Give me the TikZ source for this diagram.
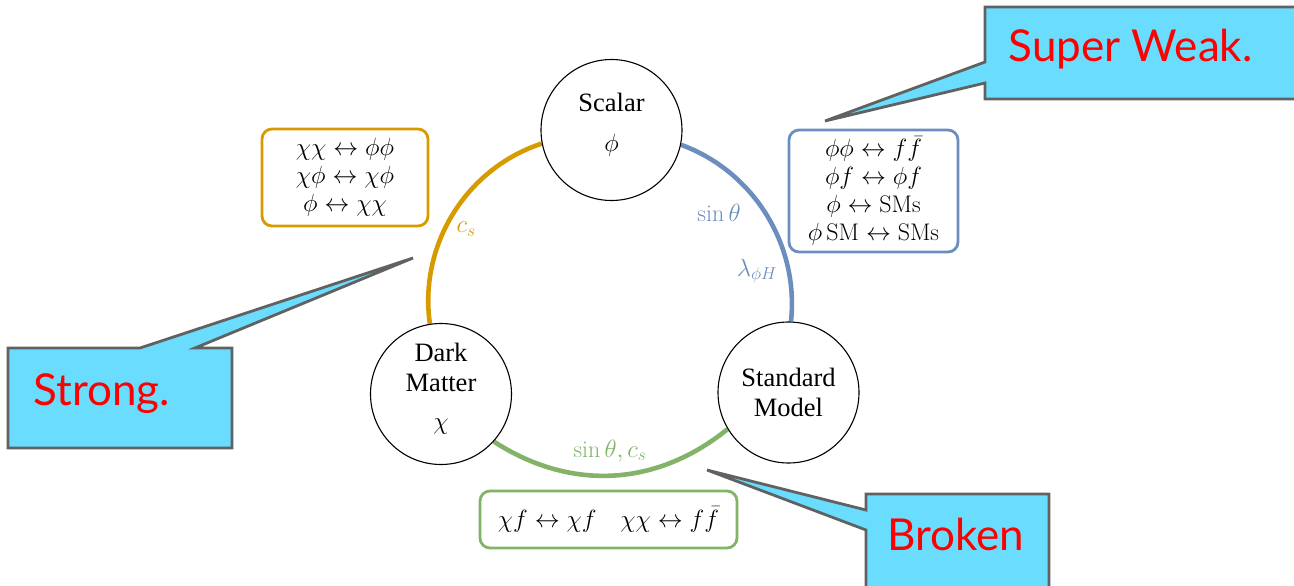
\documentclass[tikz,border=0pt]{standalone}
\usepackage{amsmath,amssymb}
\usepackage{fontspec}
\newfontfamily\sectorfont{Liberation Serif}
\newfontfamily\handfont{Lato}
\usetikzlibrary{backgrounds}
\definecolor{dmorange}{HTML}{D79B00}
\definecolor{smblue}{HTML}{6C8EBF}
\definecolor{mixgreen}{HTML}{82B366}
\definecolor{calloutcyan}{HTML}{6ADDFF}
\definecolor{calloutgray}{HTML}{616161}
\tikzset{
  sector/.style={circle, draw=black, line width=1.1pt, fill=white,
    minimum size=141pt, inner sep=0pt, align=center,
    font=\sectorfont\fontsize{26.5}{30}\selectfont},
  coupling arc/.style={line width=4.6pt},
  process box/.style={draw, line width=2.8pt, rounded corners=10pt,
    fill=white, align=center, inner sep=0pt,
    font=\fontsize{24}{28}\selectfont},
  coupling label/.style={font=\fontsize{24}{28}\selectfont},
  callout/.style={draw=calloutgray, fill=calloutcyan, line width=2.8pt},
  callout text/.style={text=red, anchor=base west,
    font=\handfont\fontsize{44}{50}\selectfont}
}
\newcommand{\couplingLabel}[4]{%
  \node[coupling label,text=#3] (#1) at #2 {$#4$};%
}

\begin{document}
\begin{tikzpicture}[x=1pt,y=-1pt]
  \useasboundingbox (0,0) rectangle (1294,586);

  % the three sectors
  \node[sector] (scalar) at (611.5,130)
    {Scalar\\[10pt]$\phi$\\[-15pt]\mbox{}};
  \node[sector] (dm) at (441,394)
    {Dark\\Matter\\[8pt]$\chi$\\[-15pt]\mbox{}};
  \node[sector] (sm) at (788.5,392.5) {Standard\\Model};

  \begin{pgfonlayer}{background}
    \draw[coupling arc,dmorange] (scalar.191.8)
      to[bend right=40,looseness=0.96] (dm.99.7);
    \draw[coupling arc,smblue] (scalar.-12.4)
      to[bend left=38,looseness=0.95] (sm.88.7);
    \draw[coupling arc,mixgreen] (dm.-42)
      to[bend right=36,looseness=1] (sm.211.4);
  \end{pgfonlayer}

  \couplingLabel{cs}{(466,229)}{dmorange}{c_s}
  \couplingLabel{sintheta}{(719,213)}{smblue}{\sin\theta}
  \couplingLabel{lambda}{(757,271)}{smblue}{\lambda_{\phi H}}
  \couplingLabel{mixing}{(610,451)}{mixgreen}{\sin\theta, c_s}

  % processes
  \node[process box,draw=dmorange,minimum width=166pt,minimum height=97pt]
    (dmbox) at (345,177.5)
    {$\chi\chi \leftrightarrow \phi\phi$\\
     $\chi\phi \leftrightarrow \chi\phi$\\
     $\phi \leftrightarrow \chi\chi$};
  \node[process box,draw=smblue,minimum width=169pt,minimum height=122pt]
    (smbox) at (873.5,191)
    {$\phi\phi \leftrightarrow f\bar{f}$\\
     $\phi f \leftrightarrow \phi f$\\
     $\phi \leftrightarrow \mathrm{SMs}$\\
     $\phi\,\mathrm{SM} \leftrightarrow \mathrm{SMs}$};
  \node[process box,draw=mixgreen,minimum width=257pt,minimum height=57pt]
    (mixbox) at (608.5,519.5)
    {$\chi f \leftrightarrow \chi f \quad \chi\chi \leftrightarrow f\bar{f}$};

  % callouts
  \coordinate (weak tip) at (825,121);
  \coordinate (strong tip) at (413,258);
  \coordinate (broken tip) at (707,470);
  \draw[callout] (985,7) -- (1310,7) -- (1310,99) -- (985,99) -- (985,83)
    -- (weak tip) -- (985,62) -- cycle;
  \draw[callout] (8,348) -- (140,348) -- (strong tip) -- (195,348)
    -- (232,348) -- (232,448) -- (8,448) -- cycle;
  \draw[callout] (866,494) -- (1049,494) -- (1049,600) -- (866,600)
    -- (866,530) -- (broken tip) -- (866,510) -- cycle;
  \node[callout text] (weak) at (1005,62) {Super Weak.};
  \node[callout text] (strong) at (30,405) {Strong.};
  \node[callout text] (broken) at (884,550) {Broken};
\end{tikzpicture}
\end{document}
